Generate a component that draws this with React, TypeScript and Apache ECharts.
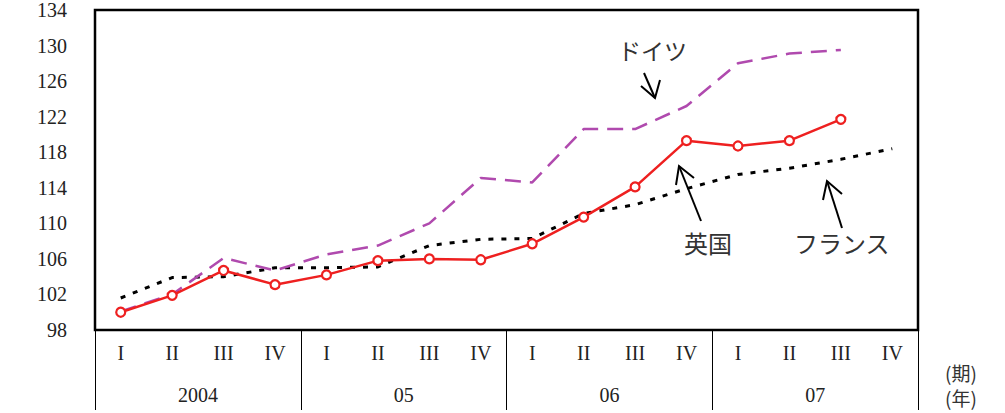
import React, { useEffect, useRef } from "react";
import * as echarts from "echarts";

const quarters = ["I", "II", "III", "IV", "I", "II", "III", "IV", "I", "II", "III", "IV", "I", "II", "III", "IV"];
const years = ["2004", "05", "06", "07"];
const uk = [100.0, 101.9, 104.7, 103.1, 104.2, 105.8, 106.0, 105.9, 107.7, 110.7, 114.1, 119.3, 118.7, 119.3, 121.7, null];
const germany = [100.1, 102.0, 106.1, 104.7, 106.5, 107.5, 110.0, 115.1, 114.6, 120.6, 120.6, 123.2, 128.0, 129.1, 129.5, null];
const france = [101.6, 103.9, 104.0, 105.0, 105.0, 105.1, 107.5, 108.2, 108.3, 111.1, 112.1, 113.9, 115.5, 116.2, 117.2, 118.4];

const SERIF = "Liberation Serif";
const JP = "Noto Sans CJK JP";

function arrow(tail: number[], tip: number[], w1: number[], w2: number[]) {
  const ls = { stroke: "#000", lineWidth: 2, fill: "none" };
  return [
    { type: "line", shape: { x1: tail[0], y1: tail[1], x2: tip[0], y2: tip[1] }, style: ls },
    { type: "polyline", shape: { points: [w1, tip, w2] }, style: ls },
  ];
}

export default function App() {
  const ref = useRef<HTMLDivElement>(null);
  useEffect(() => {
    if (!ref.current) return;
    const chart = echarts.init(ref.current, undefined, { renderer: "svg" });
    const lbl = { color: "#222", fontFamily: SERIF, fontSize: 20 };
    chart.setOption({
      animation: false,
      backgroundColor: "#fff",
      grid: { left: 95, right: 87, top: 10, bottom: 83, show: true, borderColor: "#000", borderWidth: 2.5, backgroundColor: "transparent" },
      xAxis: [
        {
          type: "category",
          data: quarters,
          boundaryGap: true,
          axisLine: { show: false },
          axisTick: { show: false },
          axisLabel: { ...lbl, margin: 13, interval: 0 },
        },
        {
          type: "category",
          data: years,
          position: "bottom",
          boundaryGap: true,
          axisLine: { show: false },
          axisTick: { show: true, length: 80, lineStyle: { color: "#000", width: 1 } },
          axisLabel: { ...lbl, margin: 55, interval: 0 },
        },
      ],
      yAxis: {
        type: "value",
        min: 98,
        max: 134,
        interval: 2,
        axisLine: { show: false },
        axisTick: { show: false },
        splitLine: { show: false },
        axisLabel: {
          ...lbl,
          margin: 28,
          formatter: (v: number) => ((v - 98) % 4 === 0 ? String(v) : ""),
        },
      },
      series: [
        {
          name: "フランス",
          type: "line",
          data: france,
          symbol: "none",
          lineStyle: { color: "#000", width: 3, type: [5, 8] },
          z: 2,
        },
        {
          name: "ドイツ",
          type: "line",
          data: germany,
          symbol: "none",
          lineStyle: { color: "#b04aae", width: 2.5, type: [16, 9] },
          z: 3,
        },
        {
          name: "英国",
          type: "line",
          data: uk,
          symbol: "circle",
          symbolSize: 9,
          itemStyle: { color: "#fff", borderColor: "#ee2020", borderWidth: 2.2 },
          lineStyle: { color: "#ee2020", width: 2.5 },
          z: 4,
        },
      ],
      graphic: [
        { type: "text", left: 618, top: 38, style: { text: "ドイツ", fontFamily: JP, fontSize: 23, fill: "#333" } },
        { type: "text", left: 684, top: 230, style: { text: "英国", fontFamily: JP, fontSize: 24, fill: "#333" } },
        { type: "text", left: 794, top: 230, style: { text: "フランス", fontFamily: JP, fontSize: 24, fill: "#333" } },
        { type: "text", left: 945, top: 363, style: { text: "(期)", fontFamily: JP, fontSize: 19, fill: "#333" } },
        { type: "text", left: 945, top: 388, style: { text: "(年)", fontFamily: JP, fontSize: 19, fill: "#333" } },
        ...arrow([644, 73], [655, 98], [641, 86], [660, 80]),
        ...arrow([701, 221], [679, 166], [676, 185], [694, 178]),
        ...arrow([842, 228], [827, 181], [823, 200], [842, 194]),
      ],
    });
    return () => chart.dispose();
  }, []);
  return <div ref={ref} style={{ position: "fixed", left: 0, top: 0, width: 1005, height: 413 }} />;
}
